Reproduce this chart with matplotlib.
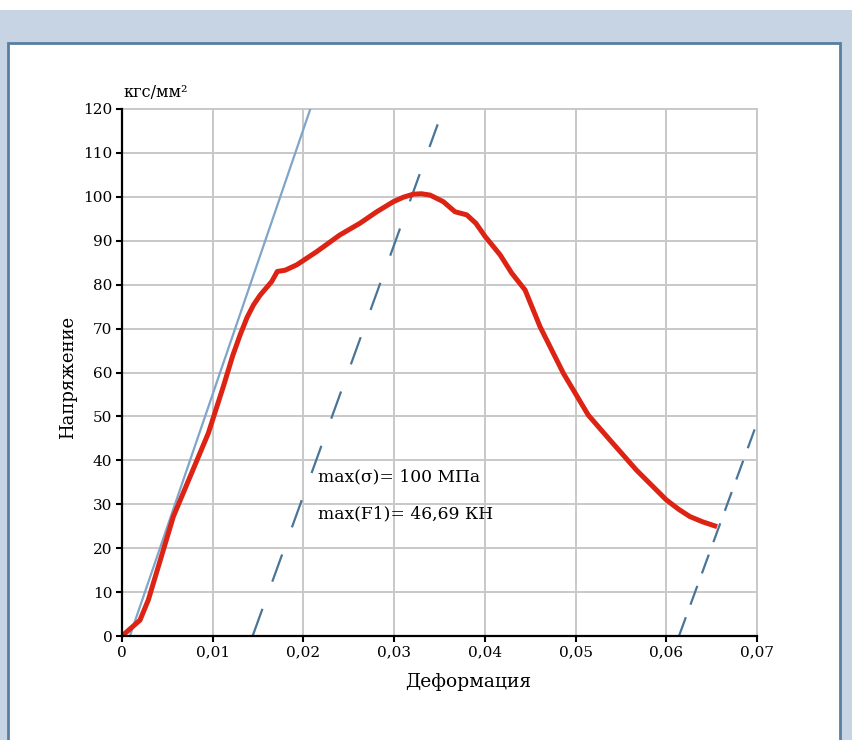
import matplotlib.pyplot as plt
from matplotlib.patches import Rectangle

plt.rcParams['font.family'] = ['DejaVu Serif']

# stress-strain curve
strain = [0.0, 0.00198, 0.0029, 0.00566, 0.00952, 0.01117, 0.0122, 0.01301, 0.0138, 0.0145,
          0.01522, 0.0165, 0.01712, 0.0180, 0.01925, 0.02145, 0.0240, 0.02624, 0.02808,
          0.02992, 0.0310, 0.0321, 0.0330, 0.03396, 0.03542, 0.03671, 0.0380, 0.0390,
          0.04002, 0.04168, 0.04297, 0.04443, 0.04609, 0.04866, 0.0514, 0.0538, 0.0567,
          0.0600, 0.0614, 0.0626, 0.0640, 0.0656]
stress = [0.0, 3.6, 8.2, 27.2, 46.2, 56.8, 63.8, 68.5, 72.6, 75.4,
          77.6, 80.7, 83.0, 83.3, 84.5, 87.5, 91.3, 94.0, 96.6,
          98.9, 99.9, 100.6, 100.7, 100.4, 98.9, 96.6, 95.9, 94.0,
          91.0, 86.8, 82.6, 78.8, 70.4, 59.8, 50.3, 44.6, 37.8,
          31.0, 28.8, 27.2, 26.0, 24.9]

# elastic line and unloading lines
elastic_x = [0.00087, 0.02076]
elastic_y = [0, 120]
unload1_x = [0.0144, 0.0348]
unload1_y = [0, 116.5]
unload2_x = [0.0614, 0.0700]
unload2_y = [0, 48.5]

xticks = [0, 0.01, 0.02, 0.03, 0.04, 0.05, 0.06, 0.07]
xticklabels = ['0', '0,01', '0,02', '0,03', '0,04', '0,05', '0,06', '0,07']
yticks = list(range(0, 121, 10))

fig = plt.figure(figsize=(8.52, 7.4), dpi=100, facecolor='#c6d4e4')
W, H = 852, 740
# white strip at top
fig.patches.append(Rectangle((0, 1 - 10 / H), 1, 10 / H, transform=fig.transFigure,
                             facecolor='white', edgecolor='none', zorder=-10))
# white panel with border
fig.patches.append(Rectangle((8 / W, -0.02), 832 / W, 1.02 - 43 / H, transform=fig.transFigure,
                             facecolor='white', edgecolor='#5a7e9f', linewidth=2, zorder=-10))

ax = fig.add_axes([122 / W, 1 - 636 / H, 635 / W, 527 / H])
ax.set_facecolor('none')

ax.plot(elastic_x, elastic_y, color='#7fa5c8', lw=1.6, zorder=3)
ax.plot(unload1_x, unload1_y, color='#4a7597', lw=1.6, dashes=(13, 13), zorder=3)
ax.plot(unload2_x, unload2_y, color='#4a7597', lw=1.6, dashes=(9, 6), zorder=3)
ax.plot(strain, stress, color='#dc2314', lw=3.6, solid_capstyle='butt',
        solid_joinstyle='round', zorder=4)

ax.set_xlim(0, 0.07)
ax.set_ylim(0, 120)
ax.set_xticks(xticks)
ax.set_xticklabels(xticklabels)
ax.set_yticks(yticks)
ax.tick_params(axis='both', labelsize=11, width=1.5, length=4, color='black', pad=3)
ax.grid(True, color='#c8c8c8', lw=1.4, zorder=0)
for gl in ax.get_xgridlines() + ax.get_ygridlines():
    gl.set_clip_on(False)
ax.set_axisbelow(True)
for s in ['top', 'right']:
    ax.spines[s].set_visible(False)
for s in ['left', 'bottom']:
    ax.spines[s].set_linewidth(1.6)
    ax.spines[s].set_zorder(5)

ax.set_xlabel('Деформация', fontsize=13.5)
ax.xaxis.set_label_coords(0.545, -0.087)
ax.xaxis.label.set_verticalalignment('center')
ax.set_ylabel('Напряжение', fontsize=13)
ax.yaxis.set_label_coords(-0.085, 0.49)
ax.yaxis.label.set_verticalalignment('center')

ax.text(0.002, 1.032, 'кгс/мм²', transform=ax.transAxes, fontsize=11.5, va='center', ha='left')
ax.text(0.0216, 36.2, 'max(σ)= 100 МПа', fontsize=12.3, va='center', ha='left')
ax.text(0.0216, 27.8, 'max(F1)= 46,69 КН', fontsize=12.3, va='center', ha='left')

fig.savefig('out.png', dpi=100, facecolor=fig.get_facecolor())
